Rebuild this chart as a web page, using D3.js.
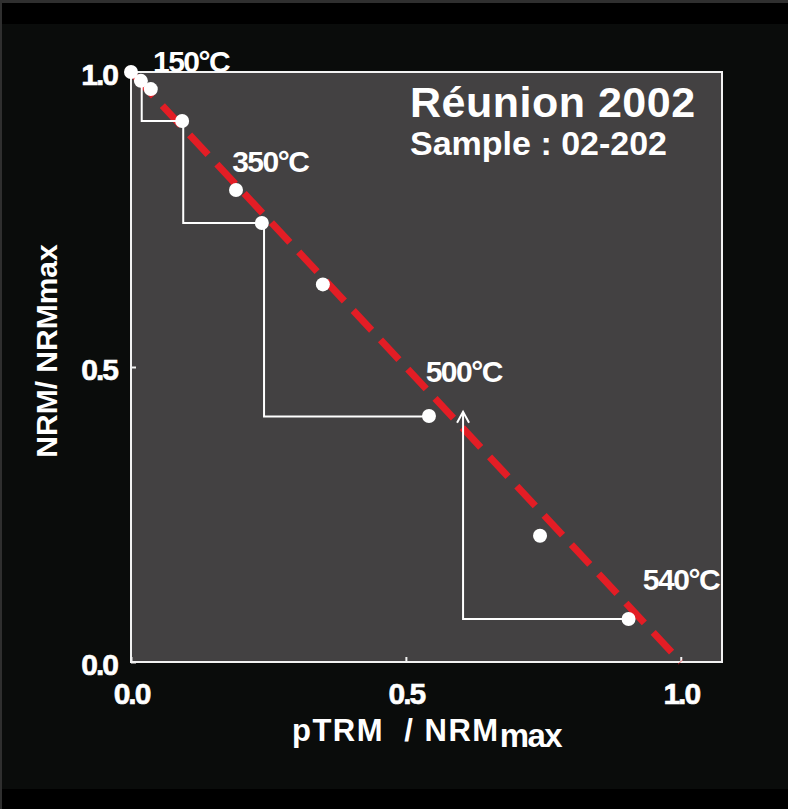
<!DOCTYPE html>
<html>
<head>
<meta charset="utf-8">
<script src="https://cdn.jsdelivr.net/npm/d3@7"></script>
<style>
  body { margin: 0; background: #0a0c0b; }
  text { font-family: "Liberation Sans", Arial, sans-serif; font-weight: bold; fill: #fff; }
</style>
</head>
<body>
<script>
// Arai plot, Réunion 2002, sample 02-202
var ptrm = [0.0, 0.018, 0.036, 0.093, 0.191, 0.238, 0.349, 0.542, 0.744, 0.905];
var nrm  = [1.0, 0.985, 0.971, 0.917, 0.800, 0.744, 0.640, 0.417, 0.214, 0.073];

// pTRM checks: vertical from (checkX, checkTop) down to checkY, then across to checkEndX
var checkX    = [0.0195, 0.095, 0.242, 0.604];
var checkTop  = [0.985, 0.917, 0.744, 0.424];
var checkY    = [0.917, 0.744, 0.416, 0.073];
var checkEndX = [0.093, 0.238, 0.542, 0.905];

// best fit line
var fitX = [0, 1];
var fitY = [1, 0];

var tempLabels = ['150°C', '350°C', '500°C', '540°C'];
var labelX = [0.040, 0.184, 0.536, 0.931];
var labelY = [1.0, 0.831, 0.475, 0.122];

var xTicks = [0, 0.5, 1.0];
var yTicks = [0, 0.5, 1.0];

var WIDTH = 788;
var HEIGHT = 809;
var LEFT = 131, RIGHT = 722, TOP = 72, BOTTOM = 662;

var translate = function (x, y) {
  return 'translate(' + x + ',' + y + ')';
};

var xScale = d3.scaleLinear().domain([0, 1.075]).range([LEFT, RIGHT]);
var yScale = d3.scaleLinear().domain([0, 1]).range([BOTTOM, TOP]);

var draw = function () {
  var svg = d3.select('body').append('svg')
    .attr('width', WIDTH)
    .attr('height', HEIGHT);

  // page frame
  svg.append('rect').attr('width', WIDTH).attr('height', HEIGHT).attr('fill', '#0a0c0b');
  svg.append('rect').attr('width', WIDTH).attr('height', 3).attr('fill', '#2f2f2f');
  svg.append('rect').attr('y', 3).attr('width', WIDTH).attr('height', 21).attr('fill', '#000');
  svg.append('rect').attr('y', 789).attr('width', WIDTH).attr('height', 20).attr('fill', '#000');
  svg.append('rect').attr('width', 2).attr('height', HEIGHT).attr('fill', '#2f2f2f');

  // plot area
  svg.append('rect')
    .attr('x', xScale(0)).attr('y', yScale(1))
    .attr('width', xScale(1.075) - xScale(0))
    .attr('height', yScale(0) - yScale(1))
    .attr('fill', '#434142')
    .attr('stroke', '#f2f2f2')
    .attr('stroke-width', 2);

  // axes
  var xAxis = d3.axisBottom(xScale).tickValues(xTicks)
    .tickFormat(d3.format('.1f')).tickSizeInner(-5).tickSizeOuter(0).tickPadding(21);
  var yAxis = d3.axisLeft(yScale).tickValues(yTicks)
    .tickFormat(d3.format('.1f')).tickSizeInner(-5).tickSizeOuter(0).tickPadding(14);

  var gx = svg.append('g').attr('transform', translate(0, BOTTOM)).call(xAxis);
  var gy = svg.append('g').attr('transform', translate(LEFT, 0)).call(yAxis);
  [gx, gy].forEach(function (g) {
    g.select('.domain').remove();
    g.selectAll('line').attr('stroke', '#f2f2f2').attr('stroke-width', 2);
    g.selectAll('text')
      .attr('fill', '#fff')
      .attr('stroke', '#fff')
      .attr('stroke-width', 0.6)
      .style('font-family', '"Liberation Sans", Arial, sans-serif')
      .style('font-weight', 'bold')
      .style('font-size', '30px')
      .style('letter-spacing', '-2px');
  });
  gy.selectAll('text').attr('dy', '0.42em');

  // fitted line
  var line = d3.line()
    .x(function (d, i) { return xScale(fitX[i]); })
    .y(function (d, i) { return yScale(fitY[i]); });
  svg.append('path')
    .attr('d', line(fitX))
    .attr('fill', 'none')
    .attr('stroke', '#e31d25')
    .attr('stroke-width', 7)
    .attr('stroke-dasharray', '27,13')
    .attr('stroke-dashoffset', -6);

  // pTRM checks
  var checks = svg.append('g')
    .attr('fill', 'none')
    .attr('stroke', '#fff')
    .attr('stroke-width', 2);
  checks.selectAll('path.check')
    .data(checkX)
    .enter().append('path')
    .attr('class', 'check')
    .attr('d', function (d, i) {
      return 'M' + xScale(d) + ',' + yScale(checkTop[i]) +
             'V' + yScale(checkY[i]) +
             'H' + xScale(checkEndX[i]);
    });
  // open arrow head on the last check
  var ax = xScale(checkX[3]), ay = yScale(checkTop[3]);
  checks.append('path')
    .attr('d', 'M' + (ax - 6) + ',' + (ay + 11) + 'L' + ax + ',' + ay + 'L' + (ax + 6) + ',' + (ay + 11));

  // points
  svg.append('g').selectAll('circle')
    .data(ptrm)
    .enter().append('circle')
    .attr('cx', function (d) { return xScale(d); })
    .attr('cy', function (d, i) { return yScale(nrm[i]); })
    .attr('r', 7)
    .attr('fill', '#fff');

  // temperature labels
  svg.append('g').selectAll('text')
    .data(tempLabels)
    .enter().append('text')
    .attr('x', function (d, i) { return xScale(labelX[i]); })
    .attr('y', function (d, i) { return yScale(labelY[i]); })
    .style('font-size', '30px')
    .style('letter-spacing', '-1.5px')
    .text(function (d) { return d; });

  // title
  svg.append('text')
    .attr('x', 410).attr('y', 117)
    .style('font-size', '43px')
    .style('letter-spacing', '0.5px')
    .text('Réunion 2002');
  svg.append('text')
    .attr('x', 410).attr('y', 155)
    .style('font-size', '34px')
    .text('Sample : 02-202');

  // axis titles
  var xt = svg.append('text')
    .attr('x', 292).attr('y', 741)
    .style('font-size', '31px')
    .style('white-space', 'pre');
  xt.append('tspan').style('letter-spacing', '1.5px').text('pTRM  / NRM');
  xt.append('tspan').attr('dy', 6).style('font-size', '33px').style('letter-spacing', '-1.5px').text('max');

  svg.append('text')
    .attr('transform', translate(57, 351) + ' rotate(-90)')
    .attr('text-anchor', 'middle')
    .style('font-size', '30px')
    .text('NRM/ NRMmax');
};

window.onload = draw;
</script>
</body>
</html>
